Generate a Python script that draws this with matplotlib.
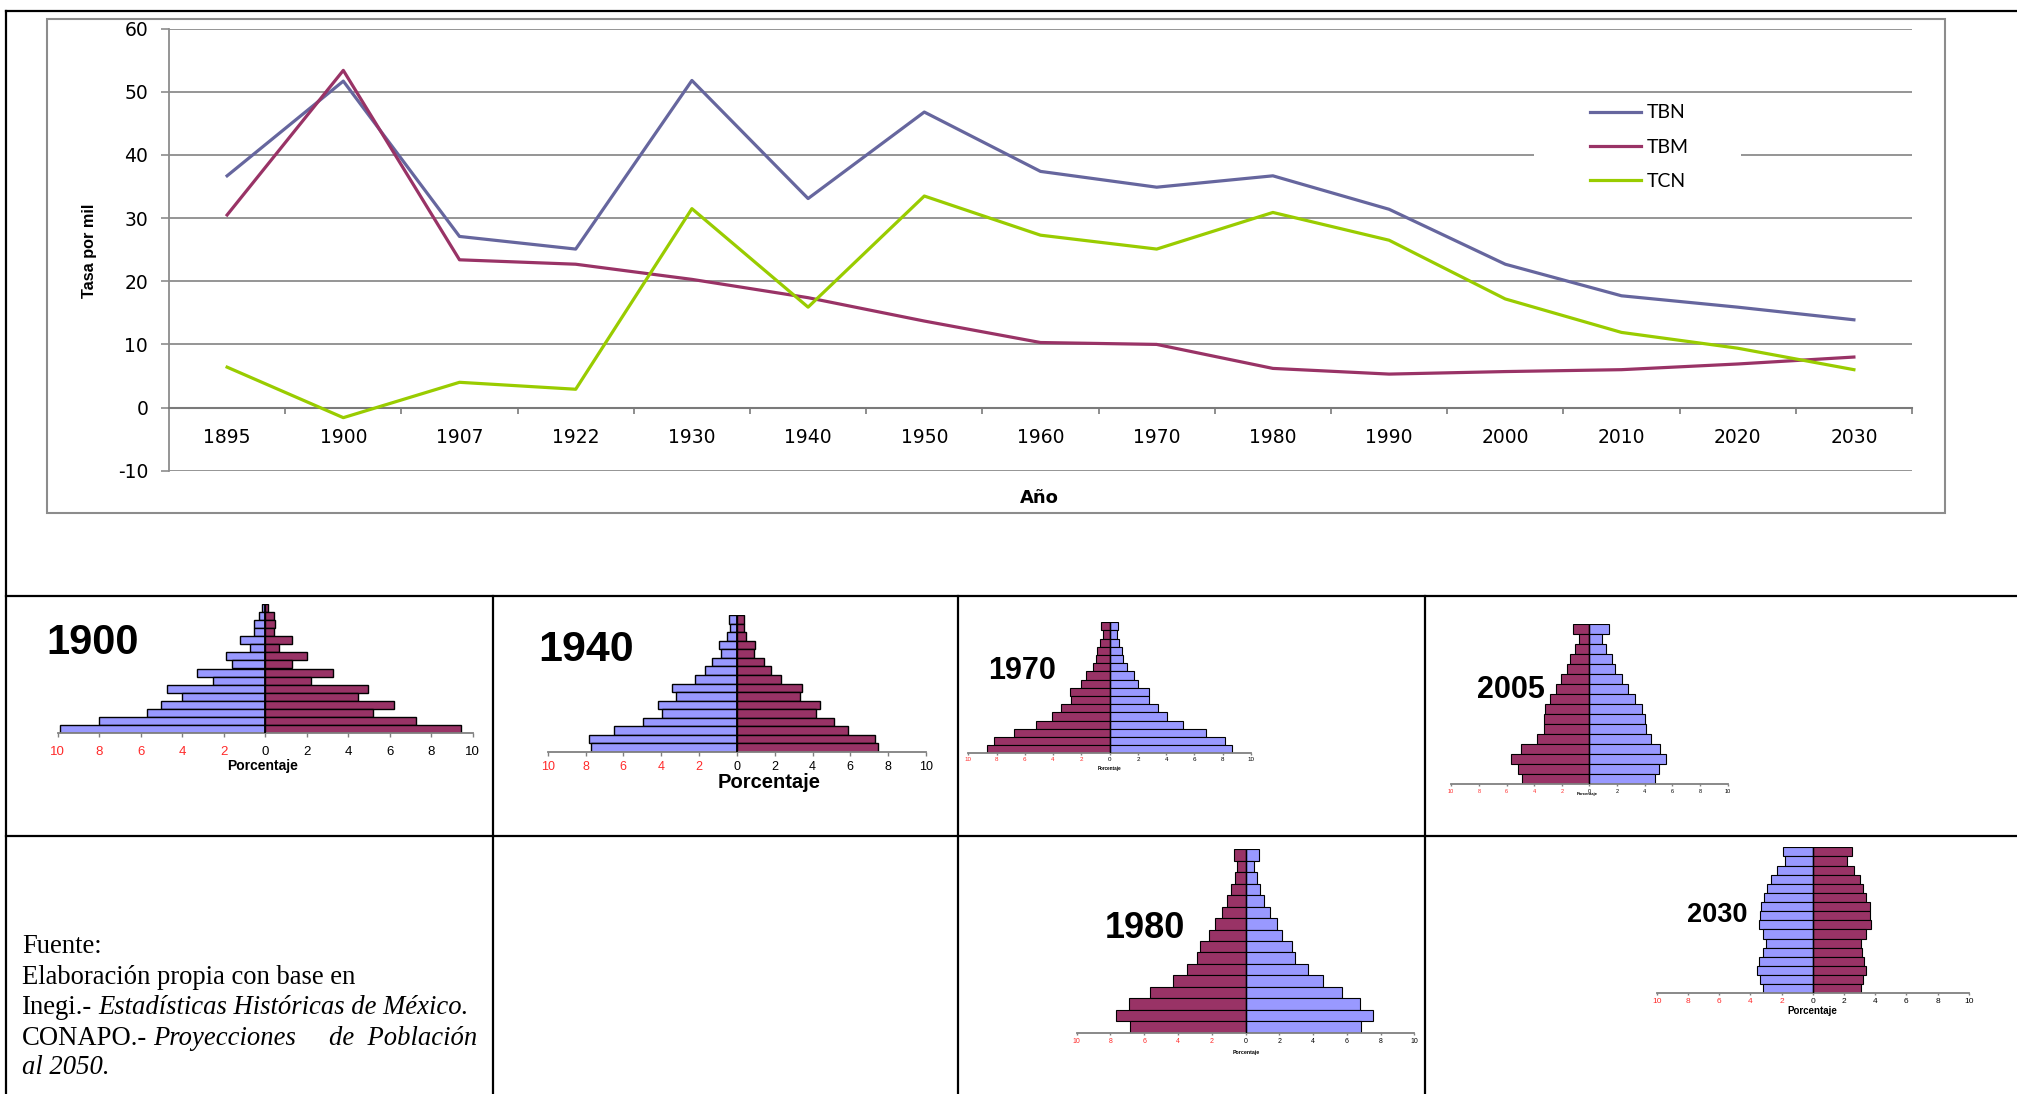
import numpy as np
import matplotlib
matplotlib.use("Agg")
import matplotlib.pyplot as plt
from matplotlib.lines import Line2D
from matplotlib.patches import Rectangle

plt.rcParams['font.family'] = ['Liberation Sans', 'DejaVu Sans']

# ---------------- data ----------------
years = ["1895", "1900", "1907", "1922", "1930", "1940", "1950", "1960",
         "1970", "1980", "1990", "2000", "2010", "2020", "2030"]
tbn = [36.7, 51.7, 27.1, 25.1, 51.8, 33.1, 46.8, 37.4, 34.9, 36.7, 31.4, 22.7, 17.7, 15.9, 13.9]
tbm = [30.5, 53.4, 23.4, 22.7, 20.3, 17.4, 13.7, 10.3, 10.0, 6.2, 5.3, 5.7, 6.0, 6.9, 8.0]
tcn = [6.4, -1.6, 4.0, 2.9, 31.5, 15.9, 33.5, 27.3, 25.1, 30.9, 26.5, 17.2, 11.9, 9.4, 6.0]
series_names = ["TBN", "TBM", "TCN"]
yticks_line = [-10, 0, 10, 20, 30, 40, 50, 60]

# pyramids: values listed from the top bar (oldest) to the bottom bar (youngest)
p1900_left = [0.16, 0.32, 0.56, 0.56, 1.20, 0.72, 1.91, 1.61, 3.28, 2.51, 4.74, 4.02, 5.03, 5.69, 8.03, 9.91]
p1900_right = [0.13, 0.40, 0.45, 0.40, 1.30, 0.66, 2.01, 1.30, 3.26, 2.20, 4.96, 4.48, 6.20, 5.19, 7.28, 9.43]
p1940_left = [0.42, 0.35, 0.51, 0.92, 0.85, 1.34, 1.71, 2.22, 3.45, 3.24, 4.18, 3.96, 4.97, 6.50, 7.81, 7.72]
p1940_right = [0.39, 0.39, 0.46, 0.97, 0.90, 1.46, 1.83, 2.34, 3.42, 3.35, 4.41, 4.21, 5.15, 5.87, 7.31, 7.47]
p1970_left = [0.59, 0.47, 0.66, 0.87, 0.97, 1.20, 1.70, 2.03, 2.81, 2.76, 3.42, 4.06, 5.19, 6.77, 8.18, 8.66]
p1970_right = [0.59, 0.52, 0.66, 0.87, 0.97, 1.23, 1.75, 2.03, 2.78, 2.76, 3.42, 4.06, 5.21, 6.79, 8.18, 8.66]
p2005_left = [1.16, 0.77, 1.05, 1.40, 1.65, 2.07, 2.45, 2.84, 3.22, 3.31, 3.28, 3.80, 4.96, 5.67, 5.18, 4.85]
p2005_right = [1.40, 0.94, 1.21, 1.60, 1.85, 2.34, 2.78, 3.28, 3.80, 4.02, 4.08, 4.46, 5.10, 5.54, 5.04, 4.77]
p1980_left = [0.71, 0.49, 0.61, 0.83, 1.11, 1.42, 1.82, 2.19, 2.67, 2.86, 3.49, 4.32, 5.63, 6.93, 7.70, 6.85]
p1980_right = [0.81, 0.53, 0.67, 0.87, 1.07, 1.46, 1.88, 2.19, 2.78, 2.94, 3.71, 4.60, 5.71, 6.81, 7.56, 6.83]
p2030_left = [1.93, 1.76, 2.30, 2.66, 2.93, 3.10, 3.32, 3.37, 3.44, 3.22, 3.00, 3.17, 3.44, 3.57, 3.37, 3.17]
p2030_right = [2.54, 2.17, 2.66, 3.03, 3.22, 3.44, 3.69, 3.69, 3.74, 3.44, 3.10, 3.17, 3.27, 3.39, 3.22, 3.08]
pyr_ticks = [-10, -8, -6, -4, -2, 0, 2, 4, 6, 8, 10]

source_lines = ["Fuente:", "Elaboración propia con base en"]

# ---------------- figure ----------------
W, H = 2017, 1094
fig = plt.figure(figsize=(W / 100, H / 100), dpi=100)


def rect(x0, y0, x1, y1):
    return [x0 / W, 1 - y1 / H, (x1 - x0) / W, (y1 - y0) / H]


def fline(x0, y0, x1, y1, color='black', lw=1.6):
    fig.add_artist(Line2D([x0 / W, x1 / W], [1 - y0 / H, 1 - y1 / H],
                          transform=fig.transFigure, color=color, lw=lw))


BLUE = '#9999FF'
MAROON = '#993366'
GRID = '#8c8c8c'

# ---------------- line chart ----------------
ax = fig.add_axes(rect(169, 28.7, 1912, 470.7))
ax.set_facecolor('none')
x = np.arange(len(years))
ax.set_xlim(-0.5, len(years) - 0.5)
ax.set_ylim(-10, 60)
for yv in yticks_line:
    if yv != 0:
        ax.axhline(yv, color=GRID, lw=1.3, zorder=1)
for s in ['top', 'right']:
    ax.spines[s].set_visible(False)
ax.spines['left'].set_color(GRID)
ax.spines['left'].set_linewidth(1.3)
ax.spines['bottom'].set_position(('data', 0))
ax.spines['bottom'].set_color('#7a7a7a')
ax.spines['bottom'].set_linewidth(1.5)
ax.set_yticks(yticks_line)
ax.set_yticklabels([str(v) for v in yticks_line], fontfamily='DejaVu Sans', fontsize=13.5)
ax.tick_params(axis='y', length=6, color=GRID, width=1.2, pad=9)
ax.set_xticks(x)
ax.set_xticklabels(years, fontfamily='DejaVu Sans', fontsize=13.5)
ax.set_xticks(np.arange(len(years)) + 0.5, minor=True)
ax.tick_params(axis='x', which='major', length=0, pad=15)
ax.tick_params(axis='x', which='minor', length=4.5, color='#7a7a7a', width=1.2, direction='out')

l1, = ax.plot(x, tbn, color='#66669E', lw=2.3, zorder=3)
l2, = ax.plot(x, tbm, color='#993366', lw=2.3, zorder=3)
l3, = ax.plot(x, tcn, color='#99CC00', lw=2.3, zorder=3)

ax.add_patch(Rectangle((1534 / W, 1 - 200 / H), (1741 - 1534) / W, 100 / H,
                       transform=fig.transFigure, facecolor='white', edgecolor='none',
                       zorder=1.5, clip_on=False))
ax.legend([l1, l2, l3], series_names, loc='upper left',
          bbox_to_anchor=(1590 / W, 1 - 104.5 / H), bbox_transform=fig.transFigure,
          frameon=False, borderpad=0, borderaxespad=0, handlelength=2.6,
          handletextpad=0.3, labelspacing=0.88, prop={'family': 'Lato', 'size': 14})

fig.text(89 / W, 1 - 251 / H, "Tasa por mil", rotation=90, ha='center', va='center',
         fontsize=11.7, fontweight='bold')
fig.text(1039 / W, 1 - 498 / H, "Año", ha='center', va='center',
         fontsize=13, fontweight='bold', family='DejaVu Sans')

# chart frame (gray)
fig.add_artist(Rectangle((47 / W, 1 - 513 / H), (1945 - 47) / W, (513 - 19) / H,
                         transform=fig.transFigure, facecolor='none', edgecolor=GRID, lw=1.5))

# ---------------- table lines ----------------
fline(6, 11, W, 11)
fline(6.4, 11, 6.4, H)
fline(6, 596, W, 596)
fline(6, 836, W, 836)
for xv in [492.7, 958.4, 1425.3]:
    fline(xv, 596, xv, H)


# ---------------- pyramids ----------------
def pyramid(xl, xr, yb, yt, left, right, lcol, rcol, tsize, tpad, tlen, edge_lw=1.0):
    a = fig.add_axes(rect(xl, yt, xr, yb))
    a.set_facecolor('none')
    pos = np.arange(len(left))
    a.barh(pos, -np.array(left), height=1.0, color=lcol, edgecolor='black', lw=edge_lw, zorder=2)
    a.barh(pos, np.array(right), height=1.0, color=rcol, edgecolor='black', lw=edge_lw, zorder=2)
    a.axvline(0, color='black', lw=edge_lw * 1.3, zorder=3)
    a.set_xlim(-10, 10)
    a.set_ylim(len(left) - 0.5, -0.5)
    for s in ['top', 'right', 'left']:
        a.spines[s].set_visible(False)
    a.spines['bottom'].set_color('#808080')
    a.spines['bottom'].set_linewidth(1.3)
    a.set_yticks([])
    a.set_xticks(pyr_ticks)
    a.set_xticklabels([str(abs(t)) for t in pyr_ticks], fontsize=tsize)
    for lbl, t in zip(a.get_xticklabels(), pyr_ticks):
        lbl.set_color('#FF2A2A' if t < 0 else 'black')
    a.tick_params(axis='x', length=tlen, color='#808080', width=1.0, pad=tpad)
    return a


pyramid(57.7, 472.7, 732.7, 604.3, p1900_left, p1900_right, BLUE, MAROON, 9.5, 6.5, 3)
pyramid(547.7, 926, 752, 615, p1940_left, p1940_right, BLUE, MAROON, 9, 3.5, 3)
pyramid(968.3, 1251, 753.3, 622.3, p1970_left, p1970_right, MAROON, BLUE, 4.5, 1.5, 1.5, 0.8)
pyramid(1451.2, 1727.7, 784, 624.3, p2005_left, p2005_right, MAROON, BLUE, 4, 2.2, 1.5, 0.8)
pyramid(1076.7, 1414.3, 1032.7, 849.3, p1980_left, p1980_right, MAROON, BLUE, 5, 2.2, 1.5, 0.8)
pyramid(1656.9, 1968.7, 993.3, 847.3, p2030_left, p2030_right, BLUE, MAROON, 6, 2, 1.5, 0.8)

# "Porcentaje" labels
for (px, py, fs) in [(263, 766, 10), (768.7, 782, 14.5), (1110, 768.7, 3.3),
                     (1587.5, 794, 3), (1246, 1052.7, 3.8), (1812.6, 1010.7, 7)]:
    fig.text(px / W, 1 - py / H, "Porcentaje", ha='center', va='center',
             fontsize=fs, fontweight='bold')

# year labels
for (txt, px, py, fs) in [("1900", 93, 643, 30), ("1940", 586, 650, 31), ("1970", 1022, 671, 22),
                          ("2005", 1511, 690, 22), ("1980", 1145, 929, 26), ("2030", 1717, 915, 19.5)]:
    fig.text(px / W, 1 - py / H, txt, ha='center', va='center', fontsize=fs, fontweight='bold')

# ---------------- source text ----------------
renderer = fig.canvas.get_renderer()
SFS = 19.2
SF = 'Liberation Serif'
base = [945, 976, 1006, 1037, 1066]
bl = [b + 8 for b in base]


def stext(xp, yp, s, style='normal', ha='left'):
    return fig.text(xp / W, 1 - yp / H, s, fontsize=SFS, family=SF, style=style,
                    va='baseline', ha=ha)


stext(22, bl[0], source_lines[0])
stext(22, bl[1], source_lines[1])
t = stext(22, bl[2], "Inegi.-")
w = t.get_window_extent(renderer).width
stext(22 + w + 6, bl[2], "Estadísticas Históricas de México.", style='italic')
t = stext(22, bl[3], "CONAPO.-")
w = t.get_window_extent(renderer).width
stext(22 + w + 6, bl[3], "Proyecciones", style='italic')
stext(477, bl[3], "de  Población", style='italic', ha='right')
stext(22, bl[4], "al 2050.", style='italic')

fig.savefig("out.png", dpi=100)
